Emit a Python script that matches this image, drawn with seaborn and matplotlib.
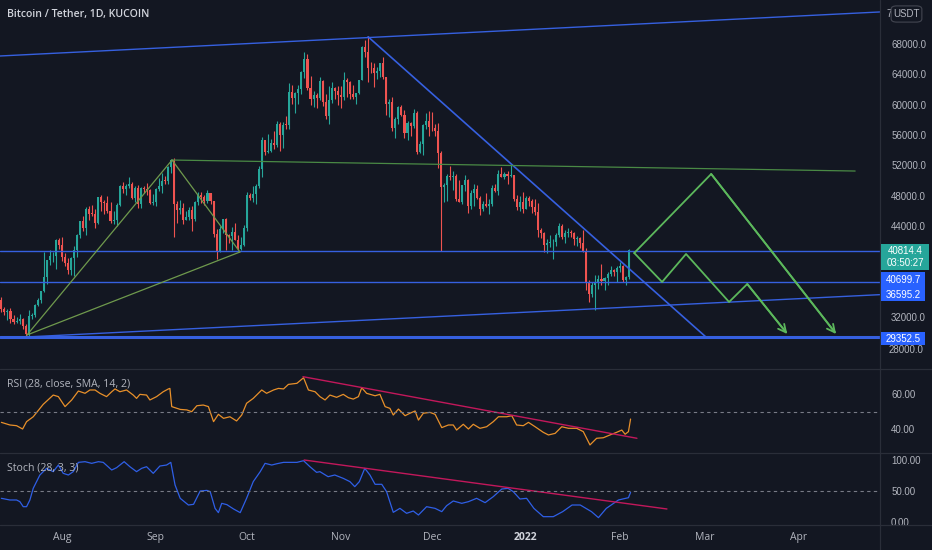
import matplotlib
matplotlib.use("Agg")
import matplotlib.pyplot as plt
import numpy as np
import pandas as pd
import seaborn as sns
from matplotlib.lines import Line2D
from matplotlib.patches import FancyBboxPatch, Rectangle

# ---------------------------------------------------------------- data
# daily candles, day 0 = 2021-07-12 ... day 207 = 2022-02-04
first_open = 34250
closes = [
    # Jul
    33090, 32720, 32820, 31780, 31390, 31530, 31780, 30840, 29790, 32140,
    32290, 33600, 34270, 35400, 37280, 39460, 40020, 40020, 42210, 41460,
    # Aug
    39850, 39150, 38200, 39720, 40870, 42840, 44630, 43800, 46290, 45600,
    45590, 44430, 47830, 47110, 47010, 45930, 44700, 44800, 46720, 49340,
    48870, 49290, 49530, 47710, 48990, 46850, 49070, 48900, 48800, 46990, 47150,
    # Sep
    48850, 49280, 49950, 49920, 51790, 52700, 46860, 46080, 46400, 44850,
    45170, 46060, 44950, 47110, 48150, 47760, 47300, 48310, 47260, 43000,
    40700, 43570, 44880, 42820, 42710, 43190, 42170, 41030, 41520, 43790,
    # Oct
    48140, 47660, 48230, 49240, 51490, 55340, 53800, 53950, 54970, 54690,
    57490, 56000, 57370, 57360, 61670, 60880, 61530, 62010, 64280, 66000,
    62210, 60690, 61300, 60850, 63080, 60330, 58460, 60590, 62250, 61860, 61320,
    # Nov
    61010, 63220, 62940, 61440, 61010, 61530, 63300, 67550, 66950, 64880,
    64810, 64150, 64380, 65500, 63600, 60100, 60350, 56900, 58110, 59700,
    58700, 56280, 57550, 57150, 58950, 53700, 54750, 57300, 57820, 57000,
    # Dec
    56950, 56500, 53600, 49200, 49400, 50600, 50500, 50600, 47600, 47150,
    49400, 50100, 46700, 48400, 48900, 47650, 46200, 46850, 46700, 46900,
    49000, 48600, 50800, 50400, 50800, 50600, 50700, 47550, 46450, 47100, 46300,
    # Jan
    47700, 47300, 46450, 45800, 43450, 43100, 41550, 41700, 41850, 41850,
    42750, 43950, 42600, 43100, 43200, 43100, 42250, 42400, 41700, 40700,
    36450, 35050, 36250, 36650, 36950, 36800, 37150, 37700, 38150, 37900, 38450,
    # Feb
    38700, 36900, 37300, 40814.4,
]
highs = [
    34650, 33330, 33110, 33180, 32250, 31950, 32430, 31890, 31040, 32860,
    32580, 33650, 34500, 35400, 40550, 39540, 40900, 40630, 42300, 42400,
    42600, 40450, 39780, 39950, 41400, 43000, 44700, 45300, 46450, 46700,
    46750, 46200, 47850, 48150, 47380, 47970, 47100, 46000, 47050, 49380,
    49800, 49500, 50500, 49850, 49250, 49350, 49150, 49300, 49650, 48900, 48250,
    48950, 50350, 51050, 50550, 51900, 52900, 52950, 47350, 47400, 47050,
    45950, 46450, 46600, 47250, 48450, 48500, 48150, 48800, 48370, 47350,
    43650, 44000, 44950, 45100, 42950, 43900, 44350, 42800, 42600, 44100,
    48450, 48350, 49250, 49500, 51900, 55750, 55350, 56100, 55450, 56550,
    57800, 57650, 57700, 58550, 62900, 62650, 61700, 62650, 64450, 67000,
    66650, 63750, 61750, 61500, 63700, 63300, 61450, 62500, 62950, 62300, 62400,
    62450, 64300, 63500, 63100, 62600, 61550, 63300, 67750, 68500, 69000,
    65600, 65450, 65000, 65550, 66300, 63600, 60800, 60950, 58350, 59850,
    60000, 59250, 57850, 57750, 59400, 59150, 55250, 57400, 58850, 59200,
    59100, 57450, 57600, 53850, 49700, 50900, 51950, 51200, 50800, 50100,
    49450, 50750, 50200, 48700, 49500, 49400, 48000, 47350, 48300, 47550,
    49350, 49550, 51350, 51800, 51150, 51250, 52050, 50700, 48150, 47900, 48550,
    47900, 47950, 47550, 47500, 47050, 43750, 43150, 42300, 42800, 42250,
    43100, 44350, 44300, 43450, 43800, 43500, 43200, 42700, 42600, 43500,
    41100, 36850, 36550, 37550, 37550, 38950, 37250, 38000, 38700, 38350, 38700,
    39250, 38850, 37400, 41000,
]
lows = [
    32700, 32250, 31600, 31150, 31050, 31170, 31100, 30400, 29280, 29480,
    31700, 31950, 33400, 33850, 35300, 36400, 38800, 39280, 38330, 41000,
    39420, 38700, 37640, 37510, 37350, 39850, 42450, 43280, 42820, 44800,
    45350, 43800, 44250, 45950, 45520, 45700, 44380, 44250, 43950, 46650,
    48300, 48150, 49050, 47600, 47150, 46330, 46400, 48400, 48150, 46900, 46750,
    46600, 48650, 48400, 49500, 49500, 50950, 42500, 44400, 45550, 44200,
    44750, 44750, 43400, 44700, 46750, 47050, 46750, 47050, 46850, 42500,
    39600, 40570, 43100, 40900, 41700, 40800, 42100, 40900, 40800, 41400,
    43300, 47450, 47150, 46950, 49050, 50400, 53350, 53650, 53700, 54100,
    54450, 53900, 54300, 56850, 56850, 60150, 58950, 60050, 61400, 63500,
    62000, 60000, 59700, 59550, 60650, 59850, 58100, 57450, 60200, 60750, 59950,
    59550, 60650, 60950, 60700, 60750, 60100, 61350, 63300, 66350, 63000,
    64150, 62300, 63450, 63600, 63450, 58600, 58400, 56500, 55650, 57450,
    58500, 55650, 55350, 55850, 56900, 53550, 53650, 53400, 56750, 55900,
    56500, 55850, 51700, 40700, 47100, 47300, 50100, 48700, 47350, 47100,
    46850, 48650, 45700, 46300, 46600, 47550, 45500, 45950, 46450, 45600,
    46650, 48450, 48100, 50450, 50200, 49550, 50450, 47350, 46100, 46000, 45700,
    46200, 46700, 45700, 45500, 42500, 42450, 40600, 40500, 41200, 39650,
    41300, 42500, 42300, 41750, 42600, 42600, 41550, 41300, 41100, 40600,
    35500, 34000, 34650, 32950, 35700, 36250, 35500, 36200, 37350, 37350, 36650,
    38000, 36650, 36250, 37050,
]

# RSI (28): (day, value)
rsi_days = [
    0, 2.8, 5.0, 7.0, 8.3, 10.5, 13.8, 17.1, 18.8, 21.0, 23.2, 25.4, 27.6,
    29.2, 30.9, 32.5, 34.7, 36.4, 37.5, 39.1, 41.3, 43.5, 44.6, 45.7, 47.9,
    49.0, 51.2, 53.4, 55.1, 55.6, 56.2, 59.0, 61.2, 62.8, 64.5, 66.6, 68.3,
    70.0, 71.6, 73.3, 75.4, 77.6, 79.3, 80.9, 83.1, 85.9, 87.5, 89.8, 91.4,
    93.1, 94.7, 97.5, 99.7, 101.3, 103.5, 105.1, 106.8, 108.4, 110.6, 112.8,
    114.5, 116.1, 117.8, 118.9, 120.5, 123.3, 124.9, 126.6, 128.2, 129.3,
    131.0, 133.2, 134.8, 136.5, 137.6, 139.2, 141.4, 143.1, 145.3, 147.5,
    149.1, 150.2, 152.4, 154.1, 155.7, 157.9, 160.1, 162.3, 164.0, 166.7,
    168.4, 170.0, 172.2, 173.9, 176.1, 178.8, 180.5, 182.7, 184.9, 187.1,
    189.8, 192.0, 194.2, 196.4, 198.6, 200.8, 203.0, 204.7, 205.8, 206.9, 207.6,
]
rsi_vals = [
    43.8, 42.3, 41.9, 40.0, 44.2, 47.0, 54.1, 59.4, 58.5, 52.8, 56.6, 61.7, 60.4,
    62.3, 62.3, 60.4, 58.5, 61.3, 62.9, 61.3, 62.3, 59.4, 57.5, 59.8, 59.4,
    56.6, 58.5, 61.3, 62.9, 63.2, 52.8, 51.2, 50.9, 49.9, 53.3, 53.7, 52.8,
    44.2, 48.4, 46.1, 47.0, 44.6, 48.0, 54.7, 57.5, 62.3, 60.4, 62.3, 63.2,
    62.9, 65.5, 66.1, 69.3, 62.3, 61.3, 58.5, 56.6, 59.4, 58.1, 59.8,
    57.9, 57.1, 58.5, 63.6, 60.4, 59.0, 59.8, 52.8, 51.8, 48.0,
    51.4, 47.6, 49.0, 50.3, 45.1, 49.0, 49.5, 48.4, 40.8, 42.3,
    42.3, 39.4, 42.7, 40.0, 42.7, 40.4, 41.3, 44.2, 47.0, 47.0,
    47.6, 42.3, 41.9, 43.8, 41.3, 38.1, 36.6, 37.5, 41.3, 40.4,
    40.4, 38.5, 30.9, 34.7, 35.0, 36.6, 38.1, 39.4, 37.0, 38.5, 45.7,
]

# Stoch (28, 3, 3): (day, value)
stoch_days = [
    0, 2.8, 5.0, 6.1, 7.2, 8.3, 9.4, 10.5, 12.7, 14.9, 17.1, 18.8, 20.4, 22.1,
    23.7, 25.4, 27.6, 29.8, 32.0, 33.6, 36.4, 38.0, 40.5, 42.4, 44.6, 46.3,
    47.9, 50.1, 52.3, 54.5, 55.9, 57.3, 59.0, 61.7, 63.4, 65.6, 67.8, 68.9,
    70.5, 71.6, 72.7, 74.4, 76.6, 78.8, 80.9, 83.1, 85.4, 87.0, 89.2, 90.9,
    93.1, 95.3, 97.5, 99.7, 101.8, 104.0, 105.1, 107.8, 110.0, 112.8, 115.0,
    116.6, 118.1, 119.9, 121.6, 123.3, 125.5, 127.1, 129.3, 131.5, 133.7,
    135.9, 137.6, 140.3, 143.1, 145.3, 146.9, 149.1, 151.9, 154.1, 156.8,
    159.6, 162.3, 165.1, 167.2, 168.9, 171.1, 173.3, 175.7, 178.8, 182.1,
    185.2, 188.3, 191.0, 194.7, 197.0, 199.6, 202.0, 203.6, 205.0, 206.9, 207.6,
]
stoch_vals = [
    38.2, 35.5, 35.5, 32.8, 24.7, 24.7, 35.5, 54.3, 75.8, 86.6, 81.2, 91.9, 78.5, 75.8,
    81.2, 96.2, 97.3, 94.6, 97.3, 96.2, 83.9, 87.6, 97.3, 89.2, 81.2, 86.6,
    89.2, 78.5, 90.3, 91.9, 96.2, 59.7, 38.2, 27.4, 28.5, 50.0, 51.0, 48.9,
    22.0, 15.1, 30.1, 28.0, 21.0, 15.1, 38.2, 65.1, 81.2, 94.6, 91.9, 94.0,
    96.2, 96.2, 96.2, 98.9, 89.2, 80.1, 81.2, 73.1, 75.8, 70.4, 65.1,
    57.0, 65.1, 86.6, 75.8, 60.8, 60.8, 48.9, 15.6, 22.0, 14.0,
    17.7, 11.3, 24.7, 22.0, 16.7, 26.3, 33.9, 30.1, 32.8, 38.2,
    31.2, 40.9, 53.2, 54.3, 48.9, 37.1, 38.2, 22.0, 8.6, 8.6,
    16.7, 27.4, 27.4, 16.7, 7.0, 22.0, 30.1, 35.5, 37.1, 39.2, 47.8,
]

# drawings: (days, values)
upper_channel = ([-1, 290], [66410, 72230])
down_trend = ([121, 232.5], [68950, 29350])
rising_support = ([7.8, 290], [29360, 34950])
level_prices = [40699.7, 36595.2, 29352.5]
neckline = ([56.3, 281.7], [52700, 51250])
green_legs = [
    ([8.45, 56.3], [29630, 52700]),
    ([8.45, 78.7], [29630, 40570]),
    ([56.3, 78.7], [52700, 40570]),
]
path_up = ([208.8, 234.2, 275.4], [40440, 50860, 29760])
path_down = ([208.8, 218.0, 225.9, 240.1, 246.1, 259.3],
             [40440, 36620, 40310, 33980, 36350, 29760])
rsi_trend = ([99.5, 209.7], [69.9, 34.7])
stoch_trend = ([99.9, 219.6], [100.0, 21.0])

month_days = [20, 51, 81, 112, 142, 173, 204, 232, 263]
month_labels = ["Aug", "Sep", "Oct", "Nov", "Dec", "2022", "Feb", "Mar", "Apr"]
# 36000 and 40000 sit under the price badges, 72000 under the currency tag
price_ticks = [32000, 44000, 48000, 52000, 56000, 60000, 64000, 68000]
rsi_ticks = [40, 60]
stoch_ticks = [0, 50, 100]

# ---------------------------------------------------------------- style
BG = "#131722"
GRID = "#2a2e39"
TXT = "#b2b5be"
UP, DOWN = "#26a69a", "#ef5350"
BLUE = "#3660e0"
GREEN = "#5cb85c"
OLIVE = "#6f9a4d"
PINK = "#c2185b"
NUM_FONT = ["Liberation Sans", "DejaVu Sans"]

sns.set_theme(style="dark", rc={
    "axes.facecolor": BG, "figure.facecolor": BG,
    "axes.edgecolor": BG, "axes.grid": False,
})
plt.rcParams["font.family"] = ["Open Sans", "DejaVu Sans"]

W, H = 932, 550
fig = plt.figure(figsize=(W / 100, H / 100), dpi=100)


def rect(top, bottom, right=880):
    return [0, 1 - bottom / H, right / W, (bottom - top) / H]


def fx(px):
    return px / W


def fy(py):
    return 1 - py / H


ax = fig.add_axes(rect(0, 369))
ax_rsi = fig.add_axes(rect(369, 453))
ax_st = fig.add_axes(rect(453, 525))

xlim = (-0.46, 289.9)

# candles
df = pd.DataFrame({"close": closes, "high": highs, "low": lows})
df["open"] = [first_open] + closes[:-1]
df["day"] = np.arange(len(df))
up = df["close"] >= df["open"]
colors = np.where(up, UP, DOWN)
ax.vlines(df["day"], df["low"], df["high"], colors=colors, lw=0.8, zorder=3)
body = (df["close"] - df["open"]).where(lambda s: s.abs() > 60, 60)
ax.bar(df["day"], body, bottom=df["open"], width=0.68, color=colors,
       linewidth=0, zorder=4)

# drawings on the price panel
ax.plot(*upper_channel, color=BLUE, lw=1.0, zorder=5)
ax.plot(*down_trend, color=BLUE, lw=1.2, zorder=5)
ax.plot(*rising_support, color=BLUE, lw=1.0, zorder=5)
for p, lw in zip(level_prices, [1.0, 1.0, 2.2]):
    ax.axhline(p, color=BLUE, lw=lw, zorder=5)
ax.plot(*neckline, color="#4a8a45", lw=0.9, zorder=5)
for xs, ys in green_legs:
    ax.plot(xs, ys, color=OLIVE, lw=0.9, zorder=5)
for xs, ys in (path_up, path_down):
    ax.plot(xs[:-1] + [xs[-1] - 0.4], ys[:-1] + [ys[-1] + 250],
            color=GREEN, lw=1.3, zorder=6)
    ax.annotate("", xy=(xs[-1], ys[-1]), xytext=(xs[-2], ys[-2]),
                arrowprops=dict(arrowstyle="->", color=GREEN, lw=1.3,
                                mutation_scale=14, shrinkA=0, shrinkB=0),
                zorder=6)
ax.set_xlim(xlim)
ax.set_ylim(25143, 73804)
ax.set_yticks(price_ticks)
ax.set_yticklabels([f"{t:.1f}" for t in price_ticks])

# RSI panel
sns.lineplot(x=rsi_days, y=rsi_vals, ax=ax_rsi, color="#e8902a", lw=0.9)
ax_rsi.plot(*rsi_trend, color=PINK, lw=1.0)
ax_rsi.axhline(50, color="#787b86", lw=0.8, ls=(0, (3, 3)))
ax_rsi.set_xlim(xlim)
ax_rsi.set_ylim(26.29, 74.29)
ax_rsi.set_yticks(rsi_ticks)
ax_rsi.set_yticklabels([f"{t:.2f}" for t in rsi_ticks])

# Stoch panel
sns.lineplot(x=stoch_days, y=stoch_vals, ax=ax_st, color="#2f5fe6", lw=0.9)
ax_st.plot(*stoch_trend, color=PINK, lw=1.0)
ax_st.axhline(50, color="#787b86", lw=0.8, ls=(0, (3, 3)))
ax_st.set_xlim(xlim)
ax_st.set_ylim(-4.84, 111.3)
ax_st.set_yticks(stoch_ticks)
ax_st.set_yticklabels([f"{t:.2f}" for t in stoch_ticks])

for a in (ax, ax_rsi, ax_st):
    a.yaxis.tick_right()
    a.tick_params(axis="y", length=0, pad=8, labelsize=7, labelcolor=TXT)
    for lab in a.get_yticklabels():
        lab.set_family(NUM_FONT)
    a.set_xlabel("")
    a.set_ylabel("")
    for s in a.spines.values():
        s.set_visible(False)
for a in (ax, ax_rsi):
    a.set_xticks([])
ax_st.set_xticks(month_days)
ax_st.set_xticklabels(month_labels)
ax_st.tick_params(axis="x", length=0, pad=5, labelsize=7.5, labelcolor=TXT)
for lab in ax_st.get_xticklabels():
    if lab.get_text() == "2022":
        lab.set_fontweight("bold")
        lab.set_color("#d1d4dc")

# panel separators
for py in (369, 453, 525):
    fig.add_artist(Line2D([0, 1], [fy(py), fy(py)], color=GRID, lw=0.9,
                          transform=fig.transFigure))
fig.add_artist(Line2D([fx(880), fx(880)], [0, 1], color=GRID, lw=0.9,
                      transform=fig.transFigure))

# titles
fig.text(fx(7), fy(15), "Bitcoin / Tether, 1D, KUCOIN", color="#d1d4dc",
         fontsize=7.6, va="center", ha="left", fontweight="semibold")
fig.text(fx(7), fy(384), "RSI (28, close, SMA, 14, 2)", color=TXT,
         fontsize=7.6, va="center", ha="left")
fig.text(fx(7), fy(468), "Stoch (28, 3, 3)", color=TXT,
         fontsize=7.6, va="center", ha="left")


# price badges
def badge(x0, x1, y0, y1, color, label, size=7):
    fig.add_artist(Rectangle((fx(x0), fy(y1)), fx(x1 - x0), (y1 - y0) / H,
                             facecolor=color, edgecolor="none",
                             transform=fig.transFigure, zorder=5))
    fig.text(fx((x0 + x1) / 2), fy((y0 + y1) / 2), label, color="white",
             fontsize=size, ha="center", va="center", zorder=6,
             linespacing=1.15, family=NUM_FONT)


badge(881, 929, 244, 270, UP, "40814.4\n03:50:27")
badge(881, 925, 272, 288, "#2962ff", "40699.7")
badge(881, 925, 288, 301, "#2962ff", "36595.2")
badge(881, 925, 332, 345, "#2962ff", "29352.5")

# 28000.0 peeks out just under the last badge
fig.text(fx(889), fy(350), "28000.0", color=TXT, fontsize=7, ha="left",
         va="center", family=NUM_FONT)

# currency tag hiding the 72000 label
fig.text(fx(889), fy(14), "7", color=TXT, fontsize=7, ha="center",
         va="center", family=NUM_FONT)
fig.add_artist(FancyBboxPatch((fx(893), fy(21)), fx(27), 14 / H,
                              boxstyle="round,pad=0.002,rounding_size=0.006",
                              facecolor=BG, edgecolor="#434651", lw=0.8,
                              transform=fig.transFigure, zorder=5))
fig.text(fx(906.5), fy(14), "USDT", color=TXT, fontsize=7, ha="center",
         va="center", zorder=6, family=NUM_FONT)

fig.savefig("out.png", dpi=100, facecolor=BG)
